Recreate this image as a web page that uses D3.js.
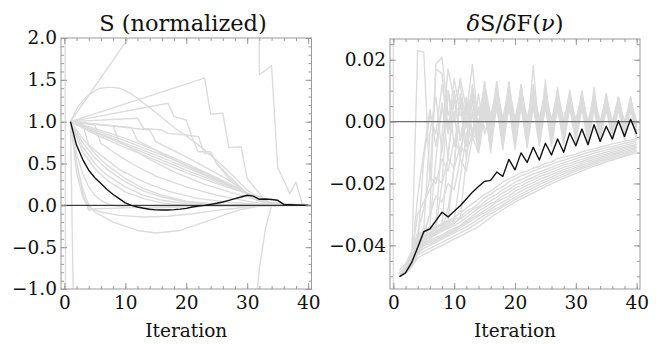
<!DOCTYPE html>
<html>
<head>
<meta charset="utf-8">
<script src="https://cdn.jsdelivr.net/npm/d3@7"></script>
<style>
  body { margin: 0; background: #fff; }
  svg { display: block; }
  text { font-family: "DejaVu Serif", serif; }
</style>
</head>
<body>
<svg id="chart" width="671" height="344"></svg>
<script>
// ---- data -------------------------------------------------------------
const iterations = [1,2,3,4,5,6,7,8,9,10,11,12,13,14,15,16,17,18,19,20,
                    21,22,23,24,25,26,27,28,29,30,31,32,33,34,35,36,37,38,39,40];
const xTicks = [0, 10, 20, 30, 40];
const sTicks = [-1.0, -0.5, 0.0, 0.5, 1.0, 1.5, 2.0];
const dTicks = [-0.04, -0.02, 0.00, 0.02];

// S (normalized), highlighted run, one value per iteration
const sBlack = [1.0,0.72,0.55,0.42,0.33,0.26,0.19,0.13,0.08,0.03,
                0.0,-0.02,-0.035,-0.047,-0.054,-0.056,-0.055,-0.051,-0.045,-0.036,
                -0.02,-0.01,0.0,0.012,0.025,0.04,0.06,0.08,0.1,0.12,
                0.11,0.072,0.075,0.07,0.06,0.012,0.008,0.005,0.003,0.0];

// S (normalized), other runs, [iteration, value] corners
const sGray = [
  [[0,8],[1,-40]],
  [[1,1],[2,-3.5],[10,-5],[30,-4],[31,-1.5],[32,-0.75],[33,-0.28],[34,0],[40,0]],
  [[1,1],[11,2.05],[21,3.1],[31,40],[32,1.56],[34,1.67],[35,0.45],[36,0.3],[37,0.14],[38,0.28],[39,0.02],[40,0]],
  [[1,1],[2,1.15],[3,1.25],[4,1.32],[5,1.37],[6,1.4],[7,1.41],[8,1.41],[9,1.4],[10,1.37],[11,1.33],[12,1.28],
   [13,1.22],[14,1.17],[15,1.11],[16,1.05],[17,0.99],[18,0.93],[19,0.88],[20,0.83],[22,0.72],[24,0.6],
   [26,0.47],[28,0.33],[30,0.18],[32,0.08],[34,0.02],[40,0]],
  [[1,1],[23,1.52],[24,1.09],[26,1.1],[27,0.69],[29,0.7],[30,0.32],[32,0.14],[33,0.02],[34,0],[40,0]],
  [[1,1],[17,1.22],[18,1.06],[20,1.02],[21,0.8],[22,0.64],[24,0.64],[25,0.5],[27,0.35],[30,0.14],[33,0.02],[40,0]],
  [[1,1],[12,1.04],[13,0.92],[16,0.9],[17,0.86],[20,0.84],[22,0.82],[23,0.62],[24,0.62],[25,0.5],[27,0.32],[30,0.14],[33,0.02],[40,0]],
  [[1,1],[5,0.9],[10,0.77],[15,0.63],[20,0.48],[25,0.32],[30,0.14],[31,0.13],[33,0.08],[34,0.01],[40,0]],
  [[1,1],[5,0.88],[10,0.74],[15,0.6],[20,0.45],[25,0.3],[30,0.14],[33,0.06],[34,0.01],[40,0]],
  [[1,1],[5,0.87],[10,0.72],[15,0.57],[20,0.42],[25,0.28],[30,0.14],[34,0],[40,0]],
  [[1,1],[5,0.85],[10,0.69],[15,0.54],[20,0.39],[25,0.26],[30,0.14],[34,0],[40,0]],
  [[1,1],[5,0.92],[10,0.8],[15,0.66],[20,0.5],[25,0.33],[30,0.15],[34,0.01],[40,0]],
  [[1,1],[3,0.97],[4,0.72],[6,0.6],[9,0.43],[13,0.28],[17,0.17],[22,0.08],[28,0.03],[34,0],[40,0]],
  [[1,1],[5,0.96],[6,0.74],[8,0.64],[11,0.5],[15,0.35],[20,0.22],[25,0.12],[30,0.05],[34,0],[40,0]],
  [[1,1],[8,0.95],[9,0.76],[11,0.68],[14,0.55],[18,0.4],[23,0.25],[28,0.14],[31,0.08],[34,0],[40,0]],
  [[1,1],[11,0.93],[12,0.77],[14,0.7],[17,0.58],[21,0.44],[25,0.31],[30,0.14],[33,0.04],[40,0]],
  [[1,1],[14,0.9],[15,0.76],[17,0.69],[20,0.58],[24,0.42],[27,0.3],[30,0.14],[33,0.03],[40,0]],
  [[1,1],[3,0.7],[5,0.5],[7,0.36],[10,0.22],[13,0.12],[16,0.06],[20,0.02],[25,0],[40,0]],
  [[1,1],[3,0.75],[5,0.57],[7,0.43],[10,0.28],[13,0.17],[16,0.1],[20,0.04],[25,0.01],[40,0]],
  [[1,1],[3,0.64],[5,0.44],[7,0.3],[10,0.16],[13,0.08],[16,0.03],[20,0],[25,-0.01],[40,0]],
  [[1,1],[3,0.8],[5,0.62],[7,0.48],[10,0.32],[13,0.2],[16,0.12],[20,0.05],[25,0.015],[40,0]],
  [[1,1],[2,0.5],[3,0.15],[4,-0.06],[5,-0.04],[10,-0.03],[20,-0.01],[40,0]],
  [[1,1],[2,0.62],[3,0.38],[4,0.22],[5,0.12],[6,0.06],[7,0.02],[8,0],[10,-0.02],[15,-0.03],[25,-0.01],[40,0]],
  [[1,1],[2,0.5],[3,0.2],[4,0],[5,-0.08],[8,-0.2],[12,-0.3],[15,-0.33],[19,-0.3],[23,-0.2],[26,-0.12],[29,-0.05],[32,-0.01],[34,0],[40,0]],
  [[1,1],[2,0.4],[3,0.1],[4,-0.03],[6,-0.08],[9,-0.12],[13,-0.14],[17,-0.13],[21,-0.1],[25,-0.06],[30,-0.02],[35,0],[40,0]]
];

// dS/dF(nu), highlighted run, one value per iteration
const dBlack = [-0.0501,-0.0489,-0.0456,-0.0407,-0.0356,-0.0347,-0.032,-0.0293,-0.0308,-0.029,
                -0.0272,-0.025,-0.0228,-0.021,-0.0193,-0.019,-0.0163,-0.0177,-0.0122,-0.0156,
                -0.0101,-0.0132,-0.0083,-0.0124,-0.007,-0.0108,-0.0056,-0.0099,-0.0037,-0.0078,
                -0.0024,-0.0075,-0.001,-0.0064,-0.0015,-0.0056,0.0003,-0.0048,0.0008,-0.004];

// dS/dF(nu), run whose start lies off scale: [iteration, value] corners
const dEdge = [[0, 0.05], [0, -0.08]];

// dS/dF(nu), oscillating runs
const dUpper = [
  [-0.05,-0.049,-0.046,0.023,0.0225,-0.019,0.017,0.0155,-0.004,0.006,0.008,-0.002,0.01,-0.003,0.009,-0.004,0.01,-0.004,0.0095,-0.004,
   0.0095,-0.0035,0.009,-0.0035,0.009,-0.0035,0.0085,-0.0035,0.0085,-0.003,0.008,-0.003,0.008,-0.003,0.0075,-0.003,0.0075,-0.003,0.007,-0.003],
  [-0.049,-0.048,-0.045,-0.024,-0.01,0.004,-0.008,0.006,-0.012,0.01,-0.006,0.008,-0.004,0.004,0.006,-0.002,0.008,-0.002,0.008,-0.002,
   0.008,-0.0015,0.0075,-0.0015,0.0075,-0.0015,0.007,-0.001,0.007,-0.001,0.0065,-0.001,0.0065,-0.001,0.006,-0.001,0.006,-0.001,0.006,-0.001],
  [-0.05,-0.048,-0.044,-0.039,-0.036,-0.03,0.0186,0.0207,0.002,0.008,-0.006,0.004,0.006,-0.004,0.01,-0.006,0.012,-0.006,0.011,-0.006,
   0.012,-0.005,0.018,-0.005,0.011,-0.005,0.01,-0.005,0.01,-0.005,0.009,-0.004,0.011,-0.004,0.009,-0.004,0.008,-0.004,0.008,-0.004],
  [-0.05,-0.048,-0.045,-0.04,-0.012,0.002,-0.004,0.012,-0.001,0.003,0.005,0.001,0.006,0.0,0.006,0.0,0.006,0.0,0.006,0.0005,
   0.006,0.0005,0.0055,0.0005,0.0055,0.0005,0.0055,0.0005,0.005,0.0,0.005,0.0,0.005,0.0,0.005,0.0,0.005,0.0,0.005,0.0],
  [-0.049,-0.047,-0.044,-0.038,-0.035,-0.004,0.008,-0.01,0.01,-0.008,0.006,-0.012,0.008,-0.008,0.009,-0.008,0.009,-0.008,0.009,-0.008,
   0.0095,-0.007,0.009,-0.007,0.0135,-0.007,0.009,-0.006,0.0085,-0.006,0.008,-0.006,0.008,-0.0055,0.0075,-0.005,0.007,-0.005,0.007,-0.005],
  [-0.05,-0.048,-0.043,-0.038,-0.036,-0.034,-0.012,0.005,-0.003,0.014,0.002,0.004,-0.003,0.005,-0.002,-0.003,0.004,-0.003,0.004,-0.003,
   0.0045,-0.003,0.004,-0.003,0.004,-0.0025,0.004,-0.0025,0.004,-0.0025,0.004,-0.002,0.004,-0.002,0.004,-0.002,0.004,-0.002,0.004,-0.002],
  [-0.05,-0.049,-0.045,-0.04,-0.037,-0.035,-0.033,-0.005,0.017,0.007,0.012,-0.001,0.011,0.002,0.01,0.001,0.011,0.001,0.011,0.001,
   0.0105,0.001,0.01,0.001,0.01,0.0005,0.0095,0.0005,0.009,0.0005,0.0085,0.0,0.008,0.0,0.008,0.0,0.0075,0.0,0.007,0.0],
  [-0.05,-0.048,-0.045,-0.041,-0.038,-0.036,-0.035,-0.033,-0.01,0.003,-0.012,0.007,-0.005,0.009,-0.004,0.002,0.007,-0.005,0.007,-0.005,
   0.007,-0.005,0.007,-0.005,0.0065,-0.0045,0.0065,-0.0045,0.0065,-0.0045,0.006,-0.004,0.006,-0.004,0.006,-0.004,0.006,-0.004,0.006,-0.004],
  [-0.049,-0.047,-0.044,-0.04,-0.037,-0.036,-0.034,-0.033,-0.032,-0.014,0.008,0.002,0.0185,-0.002,0.013,-0.002,0.013,-0.002,0.013,-0.002,
   0.012,-0.002,0.012,-0.002,0.011,-0.002,0.011,-0.002,0.01,-0.002,0.01,-0.002,0.009,-0.002,0.009,-0.002,0.008,-0.002,0.008,-0.002],
  [-0.05,-0.048,-0.046,-0.041,-0.039,-0.037,-0.036,-0.034,-0.033,-0.032,-0.018,-0.004,0.002,-0.01,0.004,-0.009,0.005,-0.009,0.005,-0.009,
   0.005,-0.0085,0.005,-0.008,0.005,-0.008,0.0045,-0.0075,0.0045,-0.007,0.0045,-0.007,0.004,-0.0065,0.004,-0.006,0.004,-0.006,0.004,-0.006],
  [-0.049,-0.047,-0.043,-0.036,-0.028,-0.018,-0.02,-0.012,-0.016,-0.006,-0.01,0.0,-0.006,0.004,0.006,-0.001,0.008,-0.001,0.008,-0.0015,
   0.008,-0.002,0.0075,-0.002,0.0075,-0.0025,0.007,-0.0025,0.007,-0.003,0.0065,-0.003,0.0065,-0.003,0.006,-0.003,0.006,-0.003,0.006,-0.003],
  [-0.05,-0.049,-0.046,-0.042,-0.039,-0.037,-0.036,-0.035,-0.034,-0.033,-0.031,-0.012,0.004,-0.008,0.01,-0.006,0.01,-0.006,0.01,-0.006,
   0.01,-0.006,0.0095,-0.0055,0.0095,-0.0055,0.009,-0.005,0.009,-0.005,0.0085,-0.0045,0.0085,-0.0045,0.008,-0.004,0.0075,-0.004,0.0075,-0.004],
  [-0.05,-0.048,-0.044,-0.03,-0.026,-0.022,-0.018,-0.02,-0.012,-0.015,-0.008,-0.01,-0.004,-0.006,0.003,-0.004,0.006,-0.004,0.007,-0.004,
   0.007,-0.004,0.007,-0.0035,0.0065,-0.0035,0.0065,-0.0035,0.006,-0.003,0.006,-0.003,0.006,-0.003,0.0055,-0.003,0.0055,-0.003,0.0055,-0.003],
  [-0.049,-0.047,-0.045,-0.041,-0.037,-0.03,-0.024,-0.026,-0.02,-0.022,-0.012,-0.016,-0.005,-0.01,0.002,-0.007,0.008,-0.006,0.009,-0.006,
   0.009,-0.0055,0.0085,-0.0055,0.0085,-0.005,0.008,-0.005,0.008,-0.0045,0.0075,-0.0045,0.0075,-0.004,0.007,-0.004,0.007,-0.004,0.0065,-0.004],
  [-0.05,-0.049,-0.047,-0.043,-0.04,-0.038,-0.036,-0.035,-0.028,-0.015,0.009,-0.008,0.012,-0.006,0.006,-0.01,0.011,-0.007,0.011,-0.007,
   0.0105,-0.007,0.01,-0.0065,0.01,-0.006,0.0095,-0.006,0.009,-0.0055,0.009,-0.005,0.0085,-0.005,0.008,-0.0045,0.008,-0.0045,0.0075,-0.0045],
  [-0.05,-0.048,-0.046,-0.042,-0.038,-0.036,-0.035,-0.02,0.01,0.0,0.014,0.004,0.009,-0.001,0.012,0.002,0.01,0.0,0.01,-0.001,
   0.0095,-0.001,0.009,-0.001,0.009,-0.001,0.0085,-0.001,0.0085,-0.001,0.008,-0.001,0.008,-0.001,0.0075,-0.001,0.0075,-0.001,0.007,-0.001]
];

// dS/dF(nu), slowly rising runs
const dLower = [
  [-0.048,-0.046,-0.042,-0.037,-0.035,-0.0345,-0.034,-0.033,-0.032,-0.031,-0.0295,-0.028,-0.0265,-0.025,-0.0235,-0.0225,-0.021,-0.0195,-0.0185,-0.0175,
   -0.0165,-0.016,-0.015,-0.0145,-0.0135,-0.013,-0.012,-0.0115,-0.011,-0.0105,-0.0098,-0.0092,-0.0088,-0.0082,-0.0078,-0.0072,-0.0068,-0.0063,-0.006,-0.0055],
  [-0.049,-0.047,-0.043,-0.036,-0.036,-0.035,-0.0345,-0.0335,-0.0325,-0.0315,-0.031,-0.029,-0.028,-0.0265,-0.0245,-0.0235,-0.022,-0.021,-0.0195,-0.0185,
   -0.0175,-0.0168,-0.016,-0.0152,-0.0145,-0.0138,-0.013,-0.0125,-0.0118,-0.0112,-0.0105,-0.01,-0.0095,-0.009,-0.0085,-0.008,-0.0075,-0.007,-0.0066,-0.0062],
  [-0.05,-0.048,-0.044,-0.039,-0.037,-0.0365,-0.0355,-0.0345,-0.0335,-0.0325,-0.0315,-0.03,-0.0285,-0.0275,-0.026,-0.0245,-0.0235,-0.022,-0.021,-0.0195,
   -0.0188,-0.0178,-0.017,-0.0162,-0.0155,-0.0148,-0.014,-0.0133,-0.0127,-0.012,-0.0114,-0.0108,-0.0102,-0.0097,-0.0092,-0.0087,-0.0082,-0.0077,-0.0072,-0.0068],
  [-0.049,-0.048,-0.045,-0.04,-0.038,-0.0375,-0.0365,-0.0355,-0.0345,-0.0335,-0.0325,-0.031,-0.0295,-0.028,-0.027,-0.0255,-0.0245,-0.023,-0.022,-0.0205,
   -0.0198,-0.0188,-0.018,-0.017,-0.0163,-0.0155,-0.0148,-0.014,-0.0135,-0.0128,-0.0122,-0.0116,-0.011,-0.0104,-0.0099,-0.0093,-0.0088,-0.0083,-0.0078,-0.0073],
  [-0.05,-0.049,-0.046,-0.041,-0.039,-0.0385,-0.0375,-0.0365,-0.0355,-0.0345,-0.0335,-0.032,-0.0305,-0.029,-0.0278,-0.0265,-0.0255,-0.024,-0.023,-0.0215,
   -0.0207,-0.0197,-0.0188,-0.0178,-0.0171,-0.0163,-0.0156,-0.0148,-0.0142,-0.0135,-0.0129,-0.0122,-0.0116,-0.011,-0.0105,-0.0099,-0.0094,-0.0088,-0.0083,-0.0078],
  [-0.05,-0.048,-0.045,-0.041,-0.0395,-0.039,-0.038,-0.037,-0.036,-0.035,-0.0338,-0.0325,-0.0312,-0.03,-0.0287,-0.0275,-0.026,-0.025,-0.024,-0.0225,
   -0.0216,-0.0206,-0.0197,-0.0187,-0.0179,-0.0171,-0.0163,-0.0155,-0.0149,-0.0142,-0.0135,-0.0128,-0.0122,-0.0116,-0.011,-0.0104,-0.0099,-0.0093,-0.0088,-0.0083],
  [-0.049,-0.048,-0.046,-0.042,-0.04,-0.0395,-0.0385,-0.0375,-0.0365,-0.0355,-0.0343,-0.033,-0.0318,-0.0305,-0.0295,-0.0283,-0.027,-0.026,-0.0248,-0.0235,
   -0.0225,-0.0215,-0.0205,-0.0196,-0.0187,-0.0179,-0.017,-0.0162,-0.0156,-0.0148,-0.0141,-0.0134,-0.0128,-0.0121,-0.0115,-0.0109,-0.0103,-0.0098,-0.0092,-0.0087],
  [-0.05,-0.049,-0.047,-0.0425,-0.041,-0.04,-0.039,-0.038,-0.037,-0.036,-0.035,-0.034,-0.0328,-0.0315,-0.0303,-0.029,-0.028,-0.0268,-0.0256,-0.0245,
   -0.0234,-0.0224,-0.0214,-0.0204,-0.0195,-0.0186,-0.0177,-0.0169,-0.0162,-0.0154,-0.0147,-0.014,-0.0133,-0.0126,-0.012,-0.0114,-0.0108,-0.0102,-0.0097,-0.0092],
  [-0.049,-0.048,-0.046,-0.043,-0.042,-0.041,-0.04,-0.039,-0.038,-0.037,-0.036,-0.035,-0.0338,-0.0325,-0.0312,-0.0298,-0.0287,-0.0275,-0.0264,-0.0252,
   -0.0242,-0.0232,-0.0222,-0.0212,-0.0203,-0.0193,-0.0184,-0.0176,-0.0168,-0.016,-0.0152,-0.0145,-0.0138,-0.0131,-0.0125,-0.0119,-0.0113,-0.0107,-0.0101,-0.0096],
  [-0.05,-0.049,-0.047,-0.044,-0.043,-0.042,-0.041,-0.04,-0.039,-0.038,-0.037,-0.036,-0.035,-0.034,-0.0325,-0.031,-0.0297,-0.0284,-0.0272,-0.026,
   -0.025,-0.024,-0.023,-0.022,-0.021,-0.0201,-0.0192,-0.0183,-0.0175,-0.0167,-0.0159,-0.0151,-0.0144,-0.0137,-0.013,-0.0124,-0.0118,-0.0112,-0.0106,-0.01]
];

// ---- layout -----------------------------------------------------------
const svg = d3.select('#chart');
const grayLine = '#dcdcdc';
const frameColor = '#9a9a9a';

const panels = [
  { id: 'left',  left: 61,  right: 311.5, top: 38, bottom: 289, yDomain: [-1, 2],
    yTicks: sTicks, yMinorStep: 0.1, yFmt: d3.format('.1f') },
  { id: 'right', left: 390, right: 640,   top: 39, bottom: 289, yDomain: [-0.0541, 0.0267],
    yTicks: dTicks, yMinorStep: 0.005, yFmt: d3.format('.2f') }
];

panels.forEach(p => {
  p.x = d3.scaleLinear().domain([-0.55, 40.55]).range([p.left, p.right]);
  p.y = d3.scaleLinear().domain(p.yDomain).range([p.bottom, p.top]);
  p.g = svg.append('g');
  svg.append('clipPath').attr('id', 'clip-' + p.id)
    .append('rect')
    .attr('x', p.left).attr('y', p.top)
    .attr('width', p.right - p.left).attr('height', p.bottom - p.top);
  p.plot = p.g.append('g').attr('clip-path', `url(#clip-${p.id})`);
});

function minorValues(lo, hi, step) {
  const out = [];
  const n0 = Math.ceil(lo / step - 1e-9), n1 = Math.floor(hi / step + 1e-9);
  for (let i = n0; i <= n1; i++) out.push(+(i * step).toFixed(6));
  return out;
}

function drawFrame(p) {
  const g = p.g;
  const xMinor = minorValues(0, 40, 2);
  const yMinor = minorValues(p.yDomain[0], p.yDomain[1], p.yMinorStep);

  const styleAxis = sel => {
    sel.select('.domain').remove();
    sel.selectAll('.tick line').attr('stroke', frameColor);
    sel.selectAll('text').attr('font-family', '"DejaVu Serif", serif')
      .attr('font-size', 18.5).attr('fill', '#111');
  };

  // minor ticks on all four sides
  g.append('g').attr('transform', `translate(0,${p.bottom})`)
    .call(d3.axisBottom(p.x).tickValues(xMinor).tickFormat('').tickSize(-3)).call(styleAxis);
  g.append('g').attr('transform', `translate(0,${p.top})`)
    .call(d3.axisTop(p.x).tickValues(xMinor).tickFormat('').tickSize(-3)).call(styleAxis);
  g.append('g').attr('transform', `translate(${p.left},0)`)
    .call(d3.axisLeft(p.y).tickValues(yMinor).tickFormat('').tickSize(-3)).call(styleAxis);
  g.append('g').attr('transform', `translate(${p.right},0)`)
    .call(d3.axisRight(p.y).tickValues(yMinor).tickFormat('').tickSize(-3)).call(styleAxis);

  // major ticks with labels
  g.append('g').attr('transform', `translate(0,${p.bottom})`)
    .call(d3.axisBottom(p.x).tickValues(xTicks).tickFormat(d3.format('d')).tickSize(-6).tickPadding(7))
    .call(styleAxis);
  g.append('g').attr('transform', `translate(0,${p.top})`)
    .call(d3.axisTop(p.x).tickValues(xTicks).tickFormat('').tickSize(-6)).call(styleAxis);
  g.append('g').attr('transform', `translate(${p.left},0)`)
    .call(d3.axisLeft(p.y).tickValues(p.yTicks).tickFormat(p.yFmt).tickSize(-6).tickPadding(4))
    .call(styleAxis);
  g.append('g').attr('transform', `translate(${p.right},0)`)
    .call(d3.axisRight(p.y).tickValues(p.yTicks).tickFormat('').tickSize(-6)).call(styleAxis);

  g.append('rect')
    .attr('x', p.left).attr('y', p.top)
    .attr('width', p.right - p.left).attr('height', p.bottom - p.top)
    .attr('fill', 'none').attr('stroke', frameColor).attr('stroke-width', 1);

  g.append('text')
    .attr('x', (p.left + p.right) / 2).attr('y', 337)
    .attr('text-anchor', 'middle').attr('font-size', 18.5).attr('fill', '#111')
    .text('Iteration');
}

// ---- left panel: S (normalized) ----------------------------------------
const L = panels[0];
const lineL = d3.line().x(d => L.x(d[0])).y(d => L.y(d[1]));

L.plot.selectAll('path.gray')
  .data(sGray)
  .join('path')
  .attr('class', 'gray')
  .attr('d', lineL)
  .attr('fill', 'none').attr('stroke', grayLine).attr('stroke-width', 1.4)
  .attr('stroke-linejoin', 'round');

L.plot.append('line')
  .attr('x1', L.left).attr('x2', L.right)
  .attr('y1', L.y(0)).attr('y2', L.y(0))
  .attr('stroke', '#111').attr('stroke-width', 1);

L.plot.append('path')
  .datum(iterations.map((it, i) => [it, sBlack[i]]))
  .attr('d', lineL)
  .attr('fill', 'none').attr('stroke', '#111').attr('stroke-width', 1.4)
  .attr('stroke-linejoin', 'round');

drawFrame(L);

svg.append('text')
  .attr('x', 183).attr('y', 31)
  .attr('text-anchor', 'middle').attr('font-size', 22.5).attr('fill', '#111')
  .text('S (normalized)');

// ---- right panel: dS/dF(nu) --------------------------------------------
const R = panels[1];
const lineR = d3.line().x((d, i) => R.x(iterations[i])).y(d => R.y(d));

R.plot.append('path')
  .datum(dEdge)
  .attr('d', d3.line().x(d => R.x(d[0])).y(d => R.y(d[1])))
  .attr('fill', 'none').attr('stroke', grayLine).attr('stroke-width', 1.4);

R.plot.selectAll('path.lower')
  .data(dLower)
  .join('path')
  .attr('class', 'lower')
  .attr('d', lineR)
  .attr('fill', 'none').attr('stroke', grayLine).attr('stroke-width', 1.4)
  .attr('stroke-linejoin', 'round');

R.plot.selectAll('path.upper')
  .data(dUpper)
  .join('path')
  .attr('class', 'upper')
  .attr('d', lineR)
  .attr('fill', 'none').attr('stroke', grayLine).attr('stroke-width', 1.4)
  .attr('stroke-linejoin', 'round');

R.plot.append('line')
  .attr('x1', R.left).attr('x2', R.right)
  .attr('y1', R.y(0)).attr('y2', R.y(0))
  .attr('stroke', '#6e6e6e').attr('stroke-width', 1.3);

R.plot.append('path')
  .datum(dBlack)
  .attr('d', lineR)
  .attr('fill', 'none').attr('stroke', '#111').attr('stroke-width', 1.4)
  .attr('stroke-linejoin', 'round');

drawFrame(R);

const title = svg.append('text')
  .attr('x', 515).attr('y', 31)
  .attr('text-anchor', 'middle').attr('font-size', 22.5).attr('fill', '#111');
title.append('tspan').attr('font-style', 'italic').text('δ');
title.append('tspan').text('S/');
title.append('tspan').attr('font-style', 'italic').text('δ');
title.append('tspan').text('F(');
title.append('tspan').attr('font-style', 'italic').text('ν');
title.append('tspan').text(')');
</script>
</body>
</html>
